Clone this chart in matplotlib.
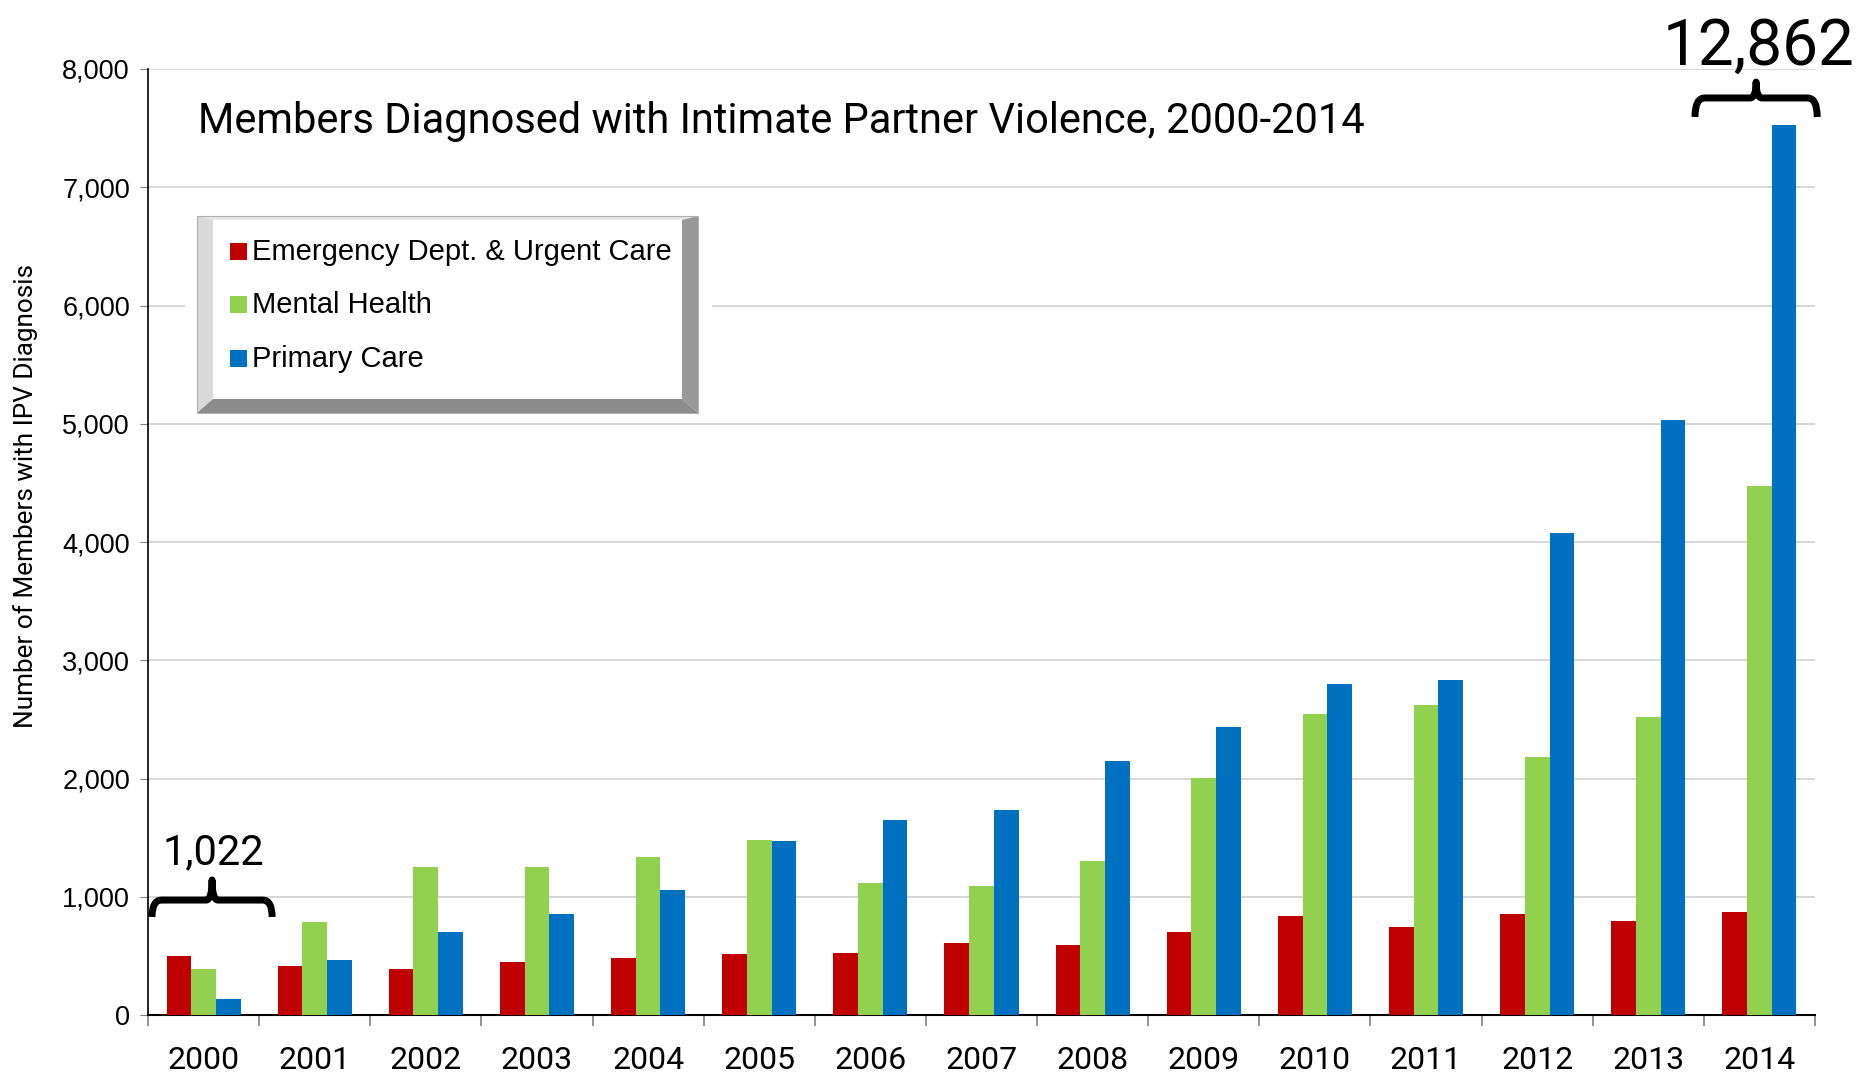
import matplotlib.pyplot as plt
from matplotlib.patches import Rectangle, Polygon, PathPatch
from matplotlib.path import Path
import numpy as np

# Data
years = ['2000', '2001', '2002', '2003', '2004', '2005', '2006', '2007',
         '2008', '2009', '2010', '2011', '2012', '2013', '2014']
emergency = [498, 414, 386, 444, 484, 515, 525, 605, 595, 706, 838, 747, 858, 797, 868]
mental = [390, 786, 1251, 1250, 1332, 1483, 1120, 1090, 1302, 2008, 2543, 2624, 2180, 2523, 4470]
primary = [134, 462, 706, 858, 1060, 1473, 1645, 1736, 2149, 2432, 2795, 2835, 4077, 5035, 7524]
series = ['Emergency Dept. & Urgent Care', 'Mental Health', 'Primary Care']
colors = ['#C00000', '#92D050', '#0070C0']
totals = {'2000': '1,022', '2014': '12,862'}

W, H = 1872, 1083
narrow = ['Roboto', 'DejaVu Sans']
plt.rcParams['font.family'] = ['Liberation Sans', 'DejaVu Sans']

fig = plt.figure(figsize=(W / 100, H / 100), dpi=100)
ax = fig.add_axes([148 / W, 1 - 1015 / H, (1815 - 148) / W, (1015 - 69) / H])

x = np.arange(len(years))
bw = 0.222
for k, vals in enumerate([emergency, mental, primary]):
    ax.bar(x + (k - 1) * bw, vals, bw, color=colors[k], zorder=3)

ax.set_xlim(-0.5, len(years) - 0.5)
ax.set_ylim(0, 8000)
ax.set_yticks(range(0, 8001, 1000))
ax.set_yticklabels([f'{v:,}' for v in range(0, 8001, 1000)], fontsize=19.5)
ax.tick_params(axis='y', length=6, color='#808080', pad=7)
ax.grid(axis='y', color='#d0d0d0', lw=1.2, zorder=0)

ax.set_xticks(x)
ax.set_xticklabels(years, fontsize=23, family=narrow)
ax.tick_params(axis='x', which='major', length=0, pad=22.5)
ax.set_xticks(np.arange(-0.5, len(years)), minor=True)
ax.tick_params(axis='x', which='minor', length=8, color='#808080', width=1.2)

for s in ['top', 'right']:
    ax.spines[s].set_visible(False)
ax.spines['left'].set_linewidth(1.2)
ax.spines['bottom'].set_linewidth(1.5)

fig.text(26 / W, 1 - 496 / H, 'Number of Members with IPV Diagnosis', rotation=90,
         fontsize=18.8, family=narrow, ha='center', va='center')

fig.text(198 / W, 1 - 121 / H, 'Members Diagnosed with Intimate Partner Violence, 2000-2014',
         fontsize=30, family=narrow, va='center', ha='left')


def brace(x0, x1, y_end, y_mid, y_tip):
    xm = (x0 + x1) / 2
    r = (x1 - x0) * 0.08
    r2 = (x1 - x0) * 0.05
    verts = [(x0, y_end), (x0, y_mid), (x0 + r, y_mid),
             (xm - r2, y_mid), (xm, y_mid), (xm, y_tip),
             (xm, y_mid), (xm + r2, y_mid),
             (x1 - r, y_mid), (x1, y_mid), (x1, y_end)]
    codes = [Path.MOVETO, Path.CURVE3, Path.CURVE3,
             Path.LINETO, Path.CURVE3, Path.CURVE3,
             Path.CURVE3, Path.CURVE3,
             Path.LINETO, Path.CURVE3, Path.CURVE3]
    ax.add_patch(PathPatch(Path(verts, codes), fill=False, lw=5, color='black',
                           capstyle='butt', joinstyle='round', clip_on=False, zorder=5))


brace(-0.464, 0.617, 829, 972, 1142)
ax.text(0.085, 1277, totals['2000'], fontsize=30, family=narrow, ha='center', va='baseline')
brace(13.42, 14.52, 7594, 7755, 7890)
ax.text(13.99, 8034, totals['2014'], fontsize=46, family=narrow, ha='center', va='baseline',
        clip_on=False)


# Legend box with bevel (pixel coordinates)
def fpoly(pts, color):
    fig.add_artist(Polygon([(px / W, 1 - py / H) for px, py in pts], closed=True,
                           transform=fig.transFigure, facecolor=color, edgecolor='none'))


fpoly([(185, 205), (712, 205), (712, 418), (185, 418)], 'white')
ox0, oy0, ox1, oy1 = 197, 216, 698, 413
ix0, iy0, ix1, iy1 = 213, 220, 682, 399
fpoly([(ox0, oy0), (ox1, oy0), (ix1, iy0), (ix0, iy0)], '#e6e6e6')
fpoly([(ox0, oy0), (ix0, iy0), (ix0, iy1), (ox0, oy1)], '#d9d9d9')
fpoly([(ox1, oy0), (ox1, oy1), (ix1, iy1), (ix1, iy0)], '#999999')
fpoly([(ox0, oy1), (ix0, iy1), (ix1, iy1), (ox1, oy1)], '#8c8c8c')
fpoly([(ix0, iy0), (ix1, iy0), (ix1, iy1), (ix0, iy1)], 'white')
fig.add_artist(Rectangle((ox0 / W, 1 - oy1 / H), (ox1 - ox0) / W, (oy1 - oy0) / H,
                         transform=fig.transFigure, fill=False, edgecolor='#b0b0b0', lw=0.8))

for k, (name, c) in enumerate(zip(series, colors)):
    cy = [252, 305, 359][k]
    fig.add_artist(Rectangle((230 / W, 1 - (cy + 8) / H), 17 / W, 17 / H,
                             transform=fig.transFigure, facecolor=c, edgecolor='none'))
    fig.text(252 / W, 1 - cy / H, name, fontsize=21, va='center', ha='left')

fig.savefig('out.png', dpi=100)
